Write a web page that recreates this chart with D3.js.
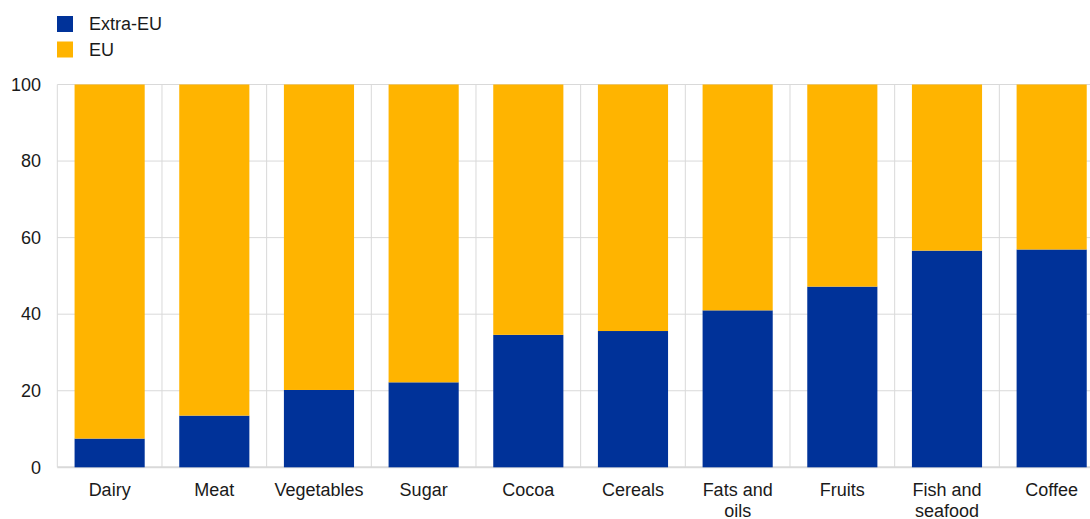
<!DOCTYPE html>
<html><head><meta charset="utf-8">
<script src="https://cdn.jsdelivr.net/npm/d3@7"></script>
<style>body{margin:0;background:#fff}svg{display:block;font-family:Arial,"Liberation Sans",sans-serif}</style>
</head><body><svg id="c" width="1090" height="519"></svg>
<script>
const categories = ["Dairy","Meat","Vegetables","Sugar","Cocoa","Cereals","Fats and oils","Fruits","Fish and seafood","Coffee"];
const labelLines = [["Dairy"],["Meat"],["Vegetables"],["Sugar"],["Cocoa"],["Cereals"],["Fats and","oils"],["Fruits"],["Fish and","seafood"],["Coffee"]];
const extraEU = [7.5,13.5,20.2,22.2,34.6,35.6,41.0,47.2,56.6,56.9];
const eu = extraEU.map(v => 100 - v);
const yTicks = [0,20,40,60,80,100];
const seriesNames = ["Extra-EU","EU"];
const colors = ["#003299","#FFB400"];

(function(){
const svg = d3.select("#c");
const mLeft = 57.3, mRight = 1104, mTop = 84.5, mBottom = 467.3;
const x = d3.scaleBand().domain(categories).range([mLeft, mRight]).paddingInner(0.33).paddingOuter(0.165);
const y = d3.scaleLinear().domain([0,100]).range([mBottom, mTop]);
const step = x.step();
const grid = "#d9d9d9";
const fs = 18;

svg.append("g").selectAll("line").data(yTicks).join("line")
  .attr("x1", mLeft).attr("x2", 1090).attr("y1", d => y(d)).attr("y2", d => y(d))
  .attr("stroke", grid).attr("stroke-width", d => d === 0 ? 2 : 1);
const bounds = d3.range(categories.length + 1).map(i => mLeft + i * step);
svg.append("g").selectAll("line").data(bounds).join("line")
  .attr("x1", d => d).attr("x2", d => d).attr("y1", mTop).attr("y2", mBottom)
  .attr("stroke", grid).attr("stroke-width", 1);

const data = categories.map((c, i) => ({cat: c, "Extra-EU": extraEU[i], "EU": eu[i]}));
const stack = d3.stack().keys(seriesNames)(data);
svg.append("g").selectAll("g").data(stack).join("g")
  .attr("fill", (d, i) => colors[i])
  .selectAll("rect").data(d => d).join("rect")
  .attr("x", d => x(d.data.cat)).attr("width", x.bandwidth())
  .attr("y", d => y(d[1])).attr("height", d => y(d[0]) - y(d[1]));

svg.append("g").selectAll("text").data(yTicks).join("text")
  .attr("x", 41).attr("y", d => y(d)).attr("dy", "0.35em")
  .attr("text-anchor", "end").attr("font-size", fs).attr("fill", "#1a1a1a").text(d => d);

const xl = svg.append("g").selectAll("text").data(categories).join("text")
  .attr("x", d => x(d) + x.bandwidth() / 2).attr("y", 496)
  .attr("text-anchor", "middle").attr("font-size", fs).attr("fill", "#1a1a1a");
xl.selectAll("tspan").data((d, i) => labelLines[i]).join("tspan")
  .attr("x", function(){ return this.parentNode.getAttribute("x"); })
  .attr("dy", (d, i) => i === 0 ? 0 : 21).text(d => d);

const lg = svg.append("g").selectAll("g").data(seriesNames).join("g")
  .attr("transform", (d, i) => `translate(57,${16 + i * 25.5})`);
lg.append("rect").attr("width", 16).attr("height", 16).attr("fill", (d, i) => colors[i]);
lg.append("text").attr("x", 32).attr("y", 8).attr("dy", "0.35em")
  .attr("font-size", fs).attr("fill", "#1a1a1a").text(d => d);
})();
</script></body></html>
